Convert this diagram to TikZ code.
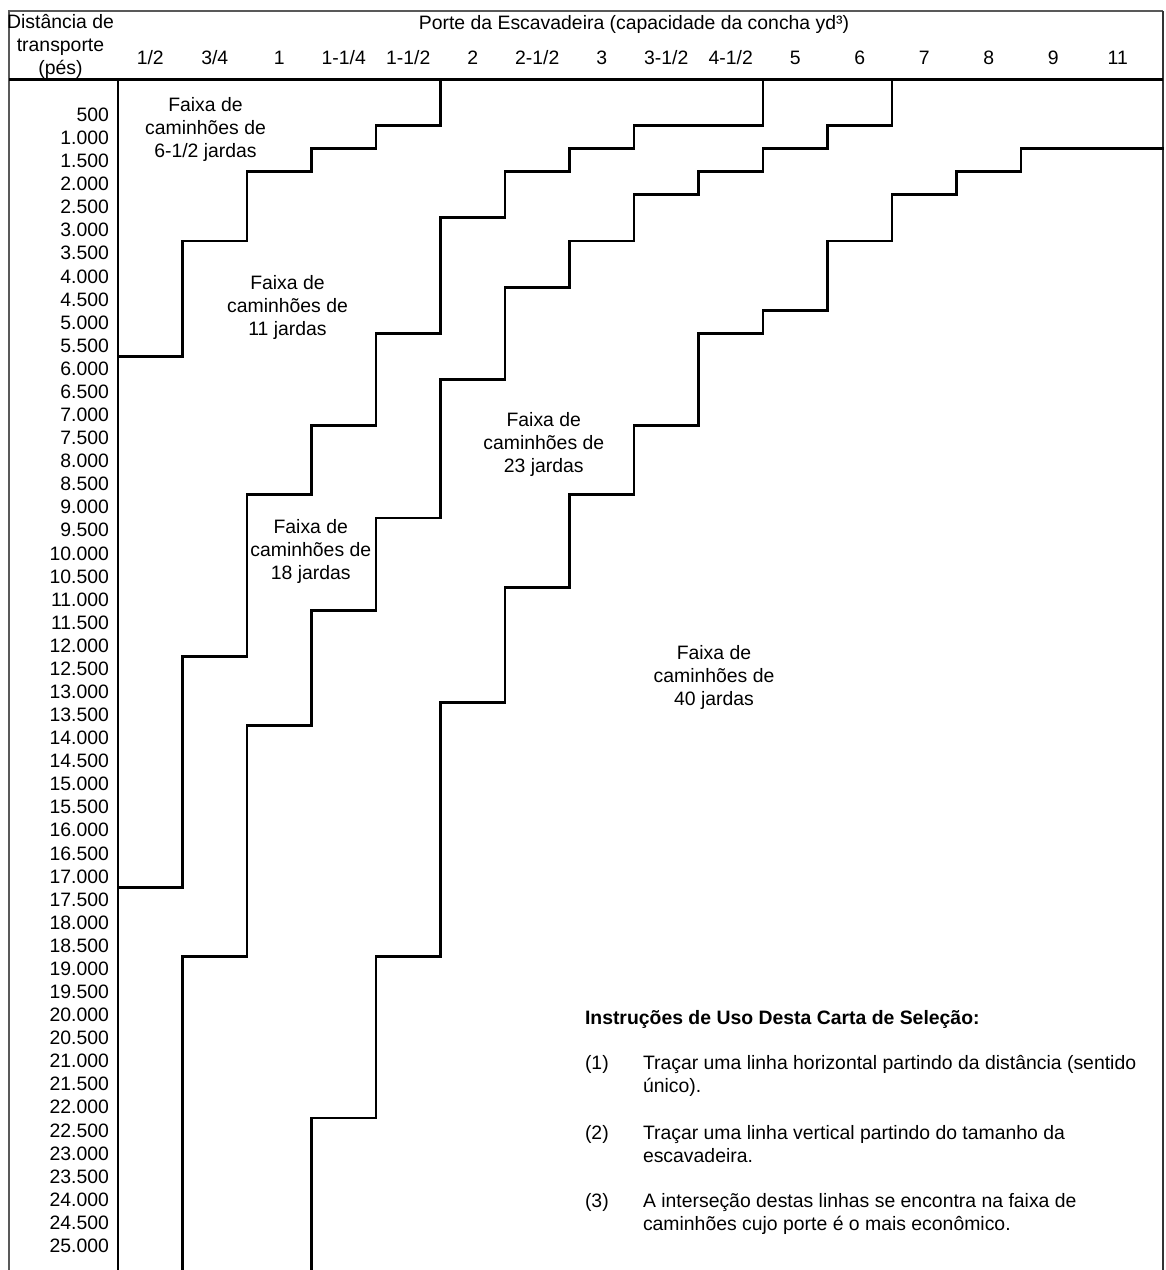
\documentclass[tikz,border=0pt]{standalone}
\usepackage{fontspec}
\setmainfont{Liberation Sans}
\begin{document}
\begin{tikzpicture}[x=1pt,y=-1pt,
  every node/.style={inner sep=0pt,outer sep=0pt,font=\fontsize{19.4}{23.08}\selectfont},
  stair/.style={line width=2.8pt,line join=miter,line cap=rect},
  rule/.style={line width=2.8pt},
  frameline/.style={line width=1.3pt,draw=black!65},
  band/.style={align=center,anchor=base},
  rowlab/.style={anchor=base east},
  collab/.style={anchor=base}]
\useasboundingbox (0,0) rectangle (1166,1270);

% outer frame, header rule and distance axis
\draw[frameline] (9,1270) -- (9,11) -- (1163,11);
\draw[line width=1.8pt,draw=black!80] (1163,11) -- (1163,1270);
\draw[rule] (9,79.4) -- (1163,79.4);
\draw[rule] (118,79.4) -- (118,1270);

% header texts (multi-line nodes sit on the baseline of their last line)
\node[band] (hdist) at (60.5,74.5) {Distância de\\transporte\\(pés)};
\node[collab] (hporte) at (634,29) {Porte da Escavadeira (capacidade da concha yd³)};
\foreach \lab [count=\c] in {1/2,3/4,1,1-1/4,1-1/2,2,2-1/2,3,3-1/2,4-1/2,5,6,7,8,9,11}
  \node[collab] (col\c) at ({118+64.5*(\c-0.5)},64.3) {\lab};

% distance labels
\foreach \lab [count=\k] in {500,1.000,1.500,2.000,2.500,3.000,3.500,4.000,4.500,5.000,
  5.500,6.000,6.500,7.000,7.500,8.000,8.500,9.000,9.500,10.000,
  10.500,11.000,11.500,12.000,12.500,13.000,13.500,14.000,14.500,15.000,
  15.500,16.000,16.500,17.000,17.500,18.000,18.500,19.000,19.500,20.000,
  20.500,21.000,21.500,22.000,22.500,23.000,23.500,24.000,24.500,25.000}
  \node[rowlab] (row\k) at (109,{98.4+23.08*\k}) {\lab};

% band boundaries, in (column, row-boundary) units
\begin{scope}[shift={(118pt,-102.46pt)},x=64.5pt,y=-23.08pt]
  \draw[stair] (5,-1) |- (4,1) |- (3,2) |- (2,3) |- (1,6) |- (0,11);
  \draw[stair] (10,-1) |- (8,1) |- (7,2) |- (6,3) |- (5,5) |- (4,10)
    |- (3,14) |- (2,17) |- (1,24) |- (0,34);
  \draw[stair] (12,-1) |- (11,1) |- (10,2) |- (9,3) |- (8,4) |- (7,6)
    |- (6,8) |- (5,12) |- (4,18) |- (3,22) |- (2,27) |- (1,37) -- (1,50.6);
  \draw[stair] (16.2,2) -- (14,2) |- (13,3) |- (12,4) |- (11,6) |- (10,9)
    |- (9,10) |- (8,14) |- (7,17) |- (6,21) |- (5,26) |- (4,37) |- (3,44) -- (3,50.6);
\end{scope}

% band labels
\node[band] (b6) at (205.5,157.2) {Faixa de\\caminhões de\\6-1/2 jardas};
\node[band] (b11) at (287.5,335.5) {Faixa de\\caminhões de\\11 jardas};
\node[band] (b18) at (310.8,579.5) {Faixa de\\caminhões de\\18 jardas};
\node[band] (b23) at (543.8,472.2) {Faixa de\\caminhões de\\23 jardas};
\node[band] (b40) at (714,705.2) {Faixa de\\caminhões de\\40 jardas};

% instructions
\node[anchor=base west,font=\fontsize{19.4}{23.08}\selectfont\bfseries] (ititle) at (585,1024)
  {Instruções de Uso Desta Carta de Seleção:};
\node[anchor=base west] (n1) at (585,1069) {(1)};
\node[anchor=base west,align=left] (t1) at (643,1092.1)
  {Traçar uma linha horizontal partindo da distância (sentido\\único).};
\node[anchor=base west] (n2) at (585,1139) {(2)};
\node[anchor=base west,align=left] (t2) at (643,1162.1)
  {Traçar uma linha vertical partindo do tamanho da\\escavadeira.};
\node[anchor=base west] (n3) at (585,1207) {(3)};
\node[anchor=base west,align=left] (t3) at (643,1230.1)
  {A interseção destas linhas se encontra na faixa de\\caminhões cujo porte é o mais econômico.};
\end{tikzpicture}
\end{document}
